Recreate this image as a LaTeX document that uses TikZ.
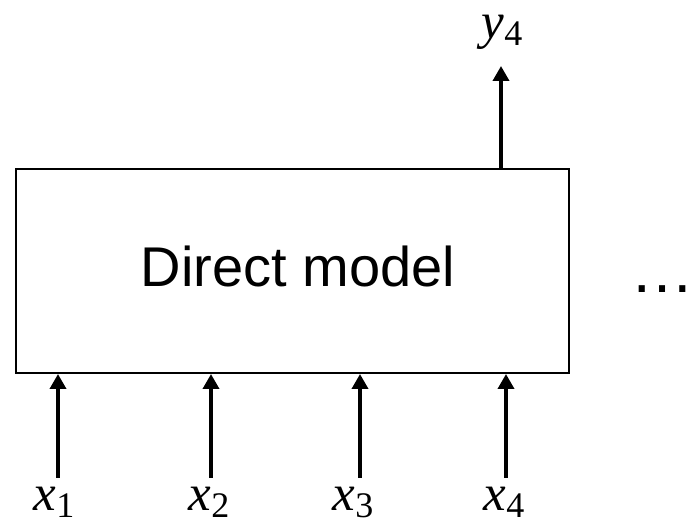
\documentclass[tikz,border=0pt]{standalone}
\usepackage{fontspec}
\setmainfont{Liberation Sans}
\newfontfamily\labfont{Liberation Serif}
\usetikzlibrary{arrows.meta}

% italic variable with an upright lowered index
\newcommand{\indexed}[2]{{\itshape #1}\raisebox{-0.12em}{\fontsize{36}{40}\selectfont #2}}

\tikzset{
  modelbox/.style={draw, line width=2pt, rectangle, inner sep=0pt,
    minimum width=553pt, minimum height=204pt},
  arr/.style={line width=3.6pt, -{Triangle[width=16pt,length=15pt]}},
  lab/.style={anchor=base, inner sep=0pt, font=\labfont\fontsize{51}{60}\selectfont},
  dots/.style={anchor=base, inner sep=0pt, font=\fontsize{64}{70}\selectfont}
}

\begin{document}
\begin{tikzpicture}[x=1pt, y=-1pt]
  \useasboundingbox (0,0) rectangle (697,526);

  % the model block
  \node[modelbox] (box) at (292.5,271) {};
  \node[anchor=base, inner sep=0pt, font=\fontsize{56}{64}\selectfont]
    (title) at (298,287) {Direct model};

  % inputs
  \node[lab] (x1) at (54,511) {\indexed{x}{1}};
  \node[lab] (x2) at (209,511) {\indexed{x}{2}};
  \node[lab] (x3) at (353,511) {\indexed{x}{3}};
  \node[lab] (x4) at (504,511) {\indexed{x}{4}};

  \coordinate (i1) at (58,478);
  \coordinate (i2) at (211,478);
  \coordinate (i3) at (360,478);
  \coordinate (i4) at (506,478);

  \draw[arr] (i1) -- (i1 |- box.south);
  \draw[arr] (i2) -- (i2 |- box.south);
  \draw[arr] (i3) -- (i3 |- box.south);
  \draw[arr] (i4) -- (i4 |- box.south);

  % output
  \coordinate (o) at (501,169);
  \coordinate (otip) at (501,66);
  \node[lab] (y4) at (502,39) {\indexed{y}{4}};
  \draw[arr] (o |- box.north) -- (otip);

  % continuation
  \node[dots] (more) at (662,293) {…};
\end{tikzpicture}
\end{document}
